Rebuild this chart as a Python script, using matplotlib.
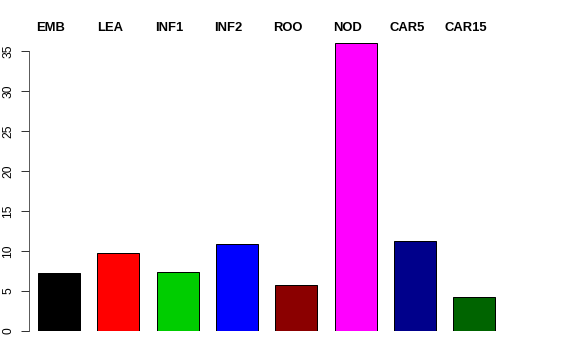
import matplotlib
matplotlib.use('Agg')
import matplotlib.pyplot as plt

plt.rcParams['font.family'] = ['Liberation Sans', 'DejaVu Sans']

tissues = ['EMB', 'LEA', 'INF1', 'INF2', 'ROO', 'NOD', 'CAR5', 'CAR15']
values = [7.3, 9.8, 7.4, 10.9, 5.8, 36.0, 11.2, 4.2]
colors = ['black', 'red', '#00CD00', 'blue', '#8B0000', 'magenta', '#00008B', '#006400']

fig = plt.figure(figsize=(8, 5), dpi=72)
# axes placed to match R barplot layout (pixels: left 29, bottom 331)
ax = fig.add_axes([29 / 576, 29 / 360, (504 - 29) / 576, 296 / 360])

pos = list(range(1, len(tissues) + 1))
ax.bar(pos, values, width=0.71, color=colors, edgecolor='black', linewidth=1)
ax.set_xlim(1 - 30 / 59.3, 8.5)
ax.set_ylim(0, 37)

for p, name in zip(pos, tissues):
    ax.text(p - 0.14, 37.9, name, ha='center', va='center',
            fontsize=13, fontweight='bold', clip_on=False)

ax.set_yticks(range(0, 36, 5))
ax.tick_params(axis='y', length=8, width=1, pad=7, labelsize=12,
               labelrotation=90, color='#333333')
for lab in ax.get_yticklabels():
    lab.set_va('center')
ax.set_xticks([])
for s in ['top', 'right', 'bottom']:
    ax.spines[s].set_visible(False)
ax.spines['left'].set_bounds(0, 35)
ax.spines['left'].set_color('#333333')

fig.savefig('out.png', dpi=72)
